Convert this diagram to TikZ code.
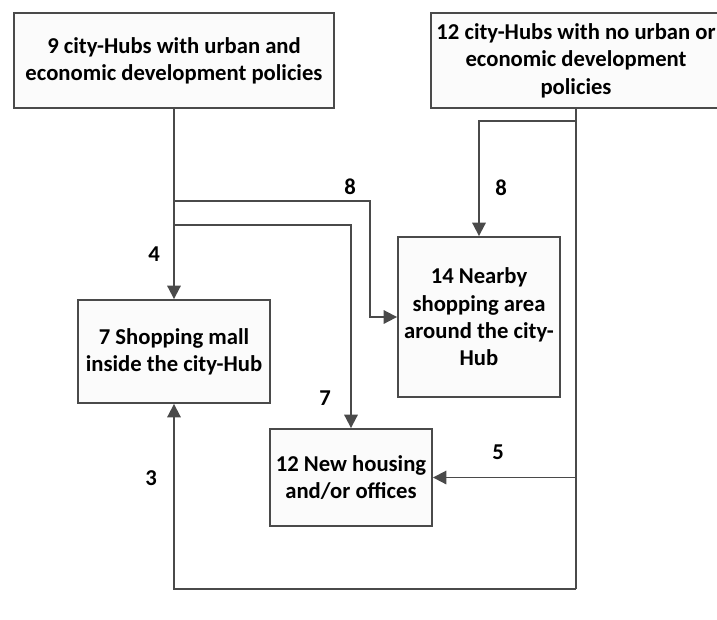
\documentclass[tikz,border=0pt]{standalone}
\usepackage{fontspec}
\setmainfont{Carlito}
\usepackage{xcolor}
\usetikzlibrary{arrows.meta,positioning}
\definecolor{linegray}{HTML}{4A4A4A}

\begin{document}
\begin{tikzpicture}[
    x=0.75pt, y=-0.75pt,
    hubbox/.style={rectangle, draw=linegray, fill=gray!3, line width=1.4pt, align=center,
                   inner sep=0pt, font=\fontsize{17}{20.5}\selectfont\bfseries},
    flow/.style={-{Triangle[length=10pt,width=10pt]}, draw=linegray, line width=1.4pt},
    wire/.style={draw=linegray, line width=1.4pt},
    flownum/.style={font=\fontsize{17}{20}\selectfont\bfseries, text=black}
  ]
  \useasboundingbox (0,0) rectangle (717,619);

  % Source groups
  \node[hubbox, minimum width=240pt, minimum height=71.25pt] (hubsPolicy) at (174,60.5)
    {9 city-Hubs with urban and\\economic development policies};
  \node[hubbox, minimum width=217.5pt, minimum height=71.25pt] (hubsNoPolicy) at (576,60.5)
    {12 city-Hubs with no urban or\\economic development\\policies};

  % Outcomes
  \node[hubbox, minimum width=144pt, minimum height=77.25pt] (mall) at (174,351.5)
    {7 Shopping mall\\inside the city-Hub};
  \node[hubbox, minimum width=121.5pt, minimum height=120pt] (nearby) at (479,317)
    {14 Nearby\\shopping area\\around the city-\\Hub};
  \node[hubbox, minimum width=121.5pt, minimum height=72.75pt] (housing) at (351,477.5)
    {12 New housing\\and/or offices};

  % Forks
  \coordinate (tapNearby) at (174,201);
  \coordinate (tapHousing) at (174,225);
  \coordinate (forkNearby) at (576,121);
  \coordinate (forkHousing) at (576,477.5);
  \coordinate (busCorner) at (576,589);

  % Left group
  \draw[flow] (hubsPolicy.south) -- (mall.north);
  \draw[flow] (tapNearby) -- (370,201) |- (nearby.west);
  \draw[flow] (tapHousing) -| (housing.north);

  % Right group
  \draw[wire] (hubsNoPolicy.south) -- (busCorner);
  \draw[flow] (forkNearby) -| (nearby.north);
  \draw[flow] (forkHousing) -- (housing.east);
  \draw[flow] (busCorner) -| (mall.south);

  % Counts
  \node[flownum] (numNearbyL) at (350,187) {8};
  \node[flownum] (numNearbyR) at (501,188) {8};
  \node[flownum] (numMallA) at (154,254) {4};
  \node[flownum] (numHousingL) at (325,398) {7};
  \node[flownum] (numHousingR) at (498,452) {5};
  \node[flownum] (numMallB) at (151,478) {3};
\end{tikzpicture}
\end{document}
